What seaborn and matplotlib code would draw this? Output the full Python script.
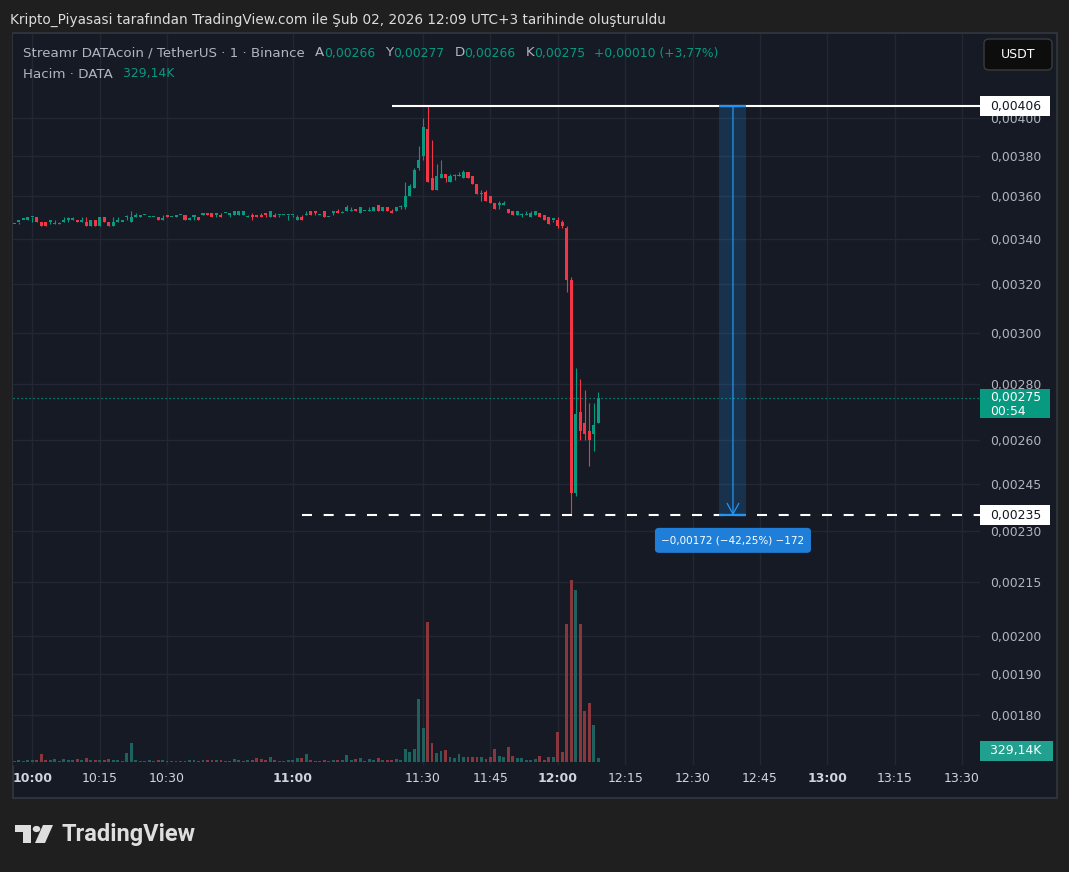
import numpy as np
import pandas as pd
import matplotlib
matplotlib.use("Agg")
import matplotlib.pyplot as plt
import seaborn as sns
from matplotlib.patches import Rectangle, FancyBboxPatch, Polygon, Circle
from matplotlib.ticker import NullLocator, NullFormatter

# ---------------- data (1-minute bars, DATA/USDT, Binance) ----------------
bar_index = list(range(131))          # bar 0 = 09:56 ... bar 130 = 12:09
opens = [0.00347, 0.00348, 0.00349, 0.00349, 0.00350, 0.00350, 0.00348, 0.00348, 0.00348, 0.00347,
         0.00347, 0.00348, 0.00349, 0.00349, 0.00349, 0.00348, 0.00348, 0.00346, 0.00349, 0.00346,
         0.00350, 0.00348, 0.00346, 0.00348, 0.00348, 0.00350, 0.00348, 0.00350, 0.00350, 0.00351,
         0.00350, 0.00350, 0.00350, 0.00349, 0.00351, 0.00350, 0.00350, 0.00351, 0.00351, 0.00349,
         0.00350, 0.00350, 0.00351, 0.00352, 0.00352, 0.00351, 0.00351, 0.00352, 0.00351, 0.00351,
         0.00351, 0.00351, 0.00350, 0.00351, 0.00351, 0.00351, 0.00352, 0.00350, 0.00351, 0.00351,
         0.00351, 0.00351, 0.00351, 0.00349, 0.00350, 0.00351, 0.00353, 0.00353, 0.00351, 0.00353,
         0.00350, 0.00352, 0.00353, 0.00352, 0.00353, 0.00353, 0.00354, 0.00352, 0.00353, 0.00353,
         0.00353, 0.00356, 0.00353, 0.00355, 0.00353, 0.00353, 0.00355, 0.00355, 0.00360, 0.00364,
         0.00374, 0.00380, 0.00394, 0.00369, 0.00363, 0.00369, 0.00371, 0.00367, 0.00370, 0.00370,
         0.00369, 0.00372, 0.00370, 0.00366, 0.00361, 0.00362, 0.00360, 0.00357, 0.00356, 0.00356,
         0.00354, 0.00353, 0.00351, 0.00351, 0.00351, 0.00350, 0.00351, 0.00352, 0.00351, 0.00350,
         0.00349, 0.00349, 0.00348, 0.00345, 0.00322, 0.00242, 0.00270, 0.00266, 0.00263, 0.00262,
         0.00266]
highs = [0.00347, 0.00348, 0.00349, 0.00350, 0.00350, 0.00350, 0.00348, 0.00348, 0.00349, 0.00349,
         0.00348, 0.00350, 0.00350, 0.00350, 0.00349, 0.00350, 0.00350, 0.00349, 0.00349, 0.00350,
         0.00350, 0.00348, 0.00350, 0.00350, 0.00348, 0.00351, 0.00353, 0.00352, 0.00351, 0.00351,
         0.00350, 0.00350, 0.00350, 0.00351, 0.00351, 0.00350, 0.00351, 0.00351, 0.00351, 0.00350,
         0.00351, 0.00350, 0.00352, 0.00352, 0.00352, 0.00352, 0.00352, 0.00352, 0.00352, 0.00353,
         0.00353, 0.00353, 0.00351, 0.00352, 0.00351, 0.00352, 0.00352, 0.00353, 0.00352, 0.00351,
         0.00351, 0.00351, 0.00351, 0.00351, 0.00351, 0.00353, 0.00353, 0.00353, 0.00351, 0.00353,
         0.00350, 0.00353, 0.00354, 0.00353, 0.00356, 0.00355, 0.00354, 0.00355, 0.00353, 0.00355,
         0.00355, 0.00356, 0.00355, 0.00355, 0.00354, 0.00355, 0.00356, 0.00367, 0.00366, 0.00374,
         0.00385, 0.00400, 0.00406, 0.00388, 0.00376, 0.00378, 0.00371, 0.00371, 0.00371, 0.00372,
         0.00373, 0.00372, 0.00370, 0.00366, 0.00363, 0.00363, 0.00360, 0.00357, 0.00358, 0.00358,
         0.00354, 0.00353, 0.00353, 0.00352, 0.00353, 0.00353, 0.00353, 0.00352, 0.00351, 0.00350,
         0.00349, 0.00350, 0.00349, 0.00346, 0.00323, 0.00286, 0.00282, 0.00278, 0.00273, 0.00273,
         0.00277]
lows = [0.00347, 0.00347, 0.00349, 0.00349, 0.00348, 0.00348, 0.00346, 0.00346, 0.00347, 0.00347,
        0.00347, 0.00348, 0.00348, 0.00349, 0.00348, 0.00348, 0.00346, 0.00346, 0.00346, 0.00346,
        0.00348, 0.00346, 0.00346, 0.00348, 0.00348, 0.00349, 0.00348, 0.00350, 0.00350, 0.00351,
        0.00350, 0.00350, 0.00349, 0.00349, 0.00350, 0.00350, 0.00350, 0.00351, 0.00349, 0.00349,
        0.00349, 0.00349, 0.00351, 0.00351, 0.00350, 0.00350, 0.00350, 0.00352, 0.00350, 0.00351,
        0.00351, 0.00351, 0.00350, 0.00349, 0.00350, 0.00350, 0.00350, 0.00350, 0.00350, 0.00350,
        0.00351, 0.00349, 0.00350, 0.00349, 0.00349, 0.00351, 0.00351, 0.00351, 0.00351, 0.00350,
        0.00350, 0.00351, 0.00352, 0.00352, 0.00353, 0.00353, 0.00353, 0.00352, 0.00353, 0.00353,
        0.00353, 0.00353, 0.00353, 0.00353, 0.00352, 0.00353, 0.00354, 0.00354, 0.00360, 0.00364,
        0.00373, 0.00378, 0.00367, 0.00363, 0.00363, 0.00369, 0.00367, 0.00367, 0.00368, 0.00370,
        0.00369, 0.00369, 0.00366, 0.00361, 0.00358, 0.00358, 0.00357, 0.00354, 0.00354, 0.00356,
        0.00352, 0.00351, 0.00351, 0.00350, 0.00351, 0.00350, 0.00351, 0.00350, 0.00349, 0.00347,
        0.00348, 0.00345, 0.00345, 0.00317, 0.00235, 0.00241, 0.00260, 0.00260, 0.00251, 0.00256,
        0.00266]
closes = [0.00347, 0.00348, 0.00349, 0.00350, 0.00350, 0.00348, 0.00346, 0.00346, 0.00349, 0.00347,
          0.00347, 0.00349, 0.00349, 0.00349, 0.00348, 0.00349, 0.00346, 0.00349, 0.00346, 0.00350,
          0.00348, 0.00346, 0.00348, 0.00349, 0.00348, 0.00350, 0.00350, 0.00351, 0.00351, 0.00351,
          0.00350, 0.00350, 0.00349, 0.00349, 0.00350, 0.00350, 0.00351, 0.00351, 0.00349, 0.00349,
          0.00351, 0.00349, 0.00352, 0.00351, 0.00350, 0.00352, 0.00350, 0.00352, 0.00352, 0.00353,
          0.00353, 0.00353, 0.00350, 0.00350, 0.00350, 0.00350, 0.00351, 0.00353, 0.00350, 0.00351,
          0.00351, 0.00351, 0.00351, 0.00350, 0.00349, 0.00351, 0.00351, 0.00352, 0.00351, 0.00350,
          0.00350, 0.00353, 0.00352, 0.00352, 0.00355, 0.00353, 0.00353, 0.00355, 0.00353, 0.00353,
          0.00355, 0.00353, 0.00355, 0.00353, 0.00352, 0.00355, 0.00355, 0.00360, 0.00365, 0.00373,
          0.00378, 0.00395, 0.00367, 0.00363, 0.00370, 0.00371, 0.00369, 0.00370, 0.00370, 0.00370,
          0.00372, 0.00369, 0.00366, 0.00361, 0.00361, 0.00358, 0.00357, 0.00354, 0.00356, 0.00356,
          0.00352, 0.00351, 0.00353, 0.00351, 0.00351, 0.00352, 0.00353, 0.00350, 0.00349, 0.00347,
          0.00349, 0.00346, 0.00346, 0.00322, 0.00242, 0.00269, 0.00263, 0.00262, 0.00260, 0.00265,
          0.00275]
volumes_k = [82, 165, 82, 165, 165, 165, 658, 165, 165, 247,
             82, 247, 165, 165, 247, 165, 329, 165, 165, 165,
             165, 247, 165, 165, 82, 740, 1563, 165, 82, 82,
             165, 82, 165, 165, 82, 82, 82, 82, 82, 165,
             165, 82, 165, 165, 165, 165, 165, 82, 82, 247,
             165, 82, 165, 165, 329, 247, 165, 411, 165, 82,
             82, 165, 165, 329, 329, 658, 165, 82, 82, 165,
             82, 165, 165, 165, 576, 165, 247, 329, 82, 247,
             165, 329, 165, 165, 165, 247, 165, 1070, 823, 1070,
             5185, 2798, 11522, 1563, 740, 905, 987, 411, 329, 658,
             411, 411, 411, 411, 411, 247, 411, 1070, 494, 411,
             1234, 494, 329, 329, 165, 165, 247, 494, 165, 411,
             411, 2469, 823, 11357, 14979, 14156, 11357, 4197, 4856, 3045,
             329.14]

time_tick_bars = [4, 19, 34, 62, 91, 106, 121, 136, 151, 166, 181, 196, 211]
time_tick_labels = ["10:00", "10:15", "10:30", "11:00", "11:30", "11:45", "12:00",
                    "12:15", "12:30", "12:45", "13:00", "13:15", "13:30"]
price_ticks = [0.00180, 0.00190, 0.00200, 0.00215, 0.00230, 0.00245, 0.00260,
               0.00280, 0.00300, 0.00320, 0.00340, 0.00360, 0.00380, 0.00400]

high_level = 0.00406
low_level = 0.00235
last_price = 0.00275
high_line_start_bar = 84
low_line_start_bar = 64
measure_bars = [157, 163]
measure_text = "\u22120,00172 (\u221242,25%) \u2212172"
countdown = "00:54"
last_volume_text = "329,14K"

# ---------------- styling ----------------
UP, DN = "#089981", "#f23645"
VOL_UP, VOL_DN = "#1d625e", "#8a363d"
PANEL = "#161a25"
OUTER = "#1f1f1f"
GRID = "#232733"
AXTXT = "#b2b5be"

sns.set_theme(style="dark")
plt.rcParams["font.family"] = ["DejaVu Sans"]

W, H = 1069, 872
fig = plt.figure(figsize=(W / 100, H / 100), dpi=100, facecolor=OUTER)


def fx(x):
    return x / W


def fy(y):
    return 1 - y / H


panel = Rectangle((fx(13), fy(798)), fx(1057) - fx(13), fy(33) - fy(798),
                  transform=fig.transFigure, facecolor=PANEL, edgecolor="#34373f",
                  lw=1.2, zorder=-1)
fig.patches.append(panel)

rect = [fx(13), fy(765), fx(980) - fx(13), fy(34) - fy(765)]
ax = fig.add_axes(rect)
ax.set_facecolor(PANEL)
ax_vol = fig.add_axes(rect, sharex=ax)
ax_vol.set_zorder(ax.get_zorder() + 1)

# ---------------- volume (seaborn) ----------------
o = np.array(opens)
c = np.array(closes)
hi = np.array(highs)
lo = np.array(lows)
xb = np.array(bar_index)
is_up = c >= o

df = pd.DataFrame({"bar": xb, "volume": volumes_k,
                   "dir": np.where(is_up, "up", "down")})
sns.barplot(data=df, x="bar", y="volume", hue="dir",
            palette={"up": VOL_UP, "down": VOL_DN}, native_scale=True,
            dodge=False, width=0.64, saturation=1, legend=False,
            errorbar=None, linewidth=0, ax=ax_vol)
vmax = max(volumes_k)
ax_vol.set_ylim(-vmax * 0.017, vmax * 4.0)
ax_vol.axis("off")

# ---------------- candles ----------------
colors = np.where(is_up, UP, DN)
ax.vlines(xb, lo, hi, colors=colors, lw=0.8, zorder=3)
body_low = np.minimum(o, c)
body_h = np.maximum(np.abs(c - o), body_low * 0.0017)
ax.bar(xb, body_h, bottom=body_low, width=0.68, color=colors, linewidth=0, zorder=4)

ax.set_yscale("log")
ax.set_ylim(0.001683, 0.004473)
ax.set_xlim(-0.3, 215)
ax.set_yticks(price_ticks, labels=[f"{v:.5f}".replace(".", ",") for v in price_ticks])
ax.yaxis.set_minor_locator(NullLocator())
ax.yaxis.set_minor_formatter(NullFormatter())
ax.yaxis.tick_right()
ax.tick_params(axis="y", length=0, pad=7.5, labelsize=8.9, labelcolor=AXTXT)
ax.set_xticks(time_tick_bars, labels=time_tick_labels)
ax.tick_params(axis="x", length=0, pad=5, labelsize=9, labelcolor="#d1d4dc")
for lbl in ax.get_xticklabels():
    if lbl.get_text().endswith(":00"):
        lbl.set_fontweight("bold")
ax.grid(True, color=GRID, lw=1)
for s in ax.spines.values():
    s.set_visible(False)
ax.set_xlabel("")
ax.set_ylabel("")

# horizontal levels
ax.hlines(high_level, high_line_start_bar, 215, color="white", lw=1.5, zorder=5)
ax.hlines(low_level, low_line_start_bar, 215, color="white", lw=1.5,
          linestyles=(0, (4.8, 5.6)), zorder=5)
ax.axhline(last_price, color=UP, lw=0.9, ls=(0, (1, 2.2)), zorder=2)

# measurement tool
m0, m1 = measure_bars
mc = (m0 + m1) / 2
ax.add_patch(Rectangle((m0, low_level), m1 - m0, high_level - low_level,
                       facecolor="#2196f3", alpha=0.2, edgecolor="none", zorder=5))
ax.hlines([high_level, low_level], m0, m1, color="#2196f3", lw=1.6, zorder=6)
ax.annotate("", xy=(mc, low_level), xytext=(mc, high_level),
            arrowprops=dict(arrowstyle="->,head_length=0.55,head_width=0.3",
                            color="#2196f3", lw=0.9, shrinkA=0, shrinkB=0,
                            mutation_scale=14), zorder=6)


def price_py(p):
    return H - ax.transData.transform((0, p))[1]


def bar_px(b):
    return ax.transData.transform((b, last_price))[0]


# measure label
ly = price_py(low_level) + 25
lx = bar_px(mc)
fig.patches.append(FancyBboxPatch((fx(lx - 78), fy(ly + 12.5)), fx(156), 25 / H,
                                  boxstyle="round,pad=0,rounding_size=0.004",
                                  transform=fig.transFigure, facecolor="#1f7fd8",
                                  edgecolor="none", zorder=6))
fig.text(fx(lx), fy(ly), measure_text, color="white", fontsize=7.5,
         ha="center", va="center", zorder=7)


# price scale labels
def right_box(top, bottom, face, right=1050):
    fig.patches.append(Rectangle((fx(980), fy(bottom)), fx(right) - fx(980), (bottom - top) / H,
                                 transform=fig.transFigure, facecolor=face,
                                 edgecolor="none", zorder=6))


yh = price_py(high_level)
right_box(yh - 10, yh + 10, "white")
fig.text(fx(990), fy(yh), f"{high_level:.5f}".replace(".", ","), color="#131722",
         fontsize=8.9, va="center", ha="left", zorder=7)
yl = price_py(low_level)
right_box(yl - 10, yl + 10, "white")
fig.text(fx(990), fy(yl), f"{low_level:.5f}".replace(".", ","), color="#131722",
         fontsize=8.9, va="center", ha="left", zorder=7)
yc = price_py(last_price)
right_box(yc - 9, yc + 20, UP)
fig.text(fx(990), fy(yc), f"{last_price:.5f}".replace(".", ","), color="white",
         fontsize=8.9, va="center", ha="left", zorder=7)
fig.text(fx(990), fy(yc + 13.5), countdown, color="white",
         fontsize=8.9, va="center", ha="left", zorder=7)
vbase = H - ax_vol.transData.transform((0, 0))[1]
right_box(vbase - 21, vbase - 1, "#22a08f", right=1053)
fig.text(fx(990), fy(vbase - 11), last_volume_text, color="white",
         fontsize=8.9, va="center", ha="left", zorder=7)

# currency button
fig.patches.append(FancyBboxPatch((fx(984), fy(70)), fx(68), 31 / H,
                                  boxstyle="round,pad=0,rounding_size=0.005",
                                  transform=fig.transFigure, facecolor="#0d0d0d",
                                  edgecolor="#3b3b3b", lw=1, zorder=6))
fig.text(fx(1018), fy(55), "USDT", color="white", fontsize=9, ha="center",
         va="center", zorder=7)

# ---------------- header texts ----------------
fig.text(fx(10), fy(20), "Kripto_Piyasasi tarafından TradingView.com ile Şub 02, 2026 "
         "12:09 UTC+3 tarihinde oluşturuldu", color="#dcdcdc", fontsize=9.8,
         ha="left", va="center")

renderer = fig.canvas.get_renderer()


def chain(x0, ypx, pieces):
    x = x0
    for text, color, size, gap in pieces:
        t = fig.text(fx(x), fy(ypx), text, color=color, fontsize=size,
                     ha="left", va="center", zorder=7)
        x += t.get_window_extent(renderer).width + gap


fmt = lambda v: f"{v:.5f}".replace(".", ",")
LBL, VAL = 9.6, 8.9
chain(23, 53, [("Streamr DATAcoin / TetherUS · 1 · Binance", AXTXT, LBL, 10),
               ("A", AXTXT, LBL, 0), (fmt(opens[-1]), UP, VAL, 10),
               ("Y", AXTXT, LBL, 0), (fmt(highs[-1]), UP, VAL, 10),
               ("D", AXTXT, LBL, 0), (fmt(lows[-1]), UP, VAL, 10),
               ("K", AXTXT, LBL, 0), (fmt(closes[-1]), UP, VAL, 9),
               ("+0,00010 (+3,77%)", UP, VAL, 0)])
chain(23, 74, [("Hacim · DATA", AXTXT, LBL, 10), (last_volume_text, UP, VAL, 0)])

# ---------------- TradingView logo ----------------
logo_c = "#dedede"
fig.patches.append(Polygon([(fx(15), fy(825)), (fx(31), fy(825)), (fx(31), fy(843)),
                            (fx(23), fy(843)), (fx(23), fy(832)), (fx(15), fy(832))],
                           closed=True, transform=fig.transFigure, facecolor=logo_c,
                           edgecolor="none"))
fig.patches.append(Circle((fx(36.5), fy(829)), 3.8 / W, transform=fig.transFigure,
                          facecolor=logo_c, edgecolor="none"))
fig.patches.append(Polygon([(fx(43), fy(825)), (fx(53), fy(825)), (fx(45), fy(843)),
                            (fx(35), fy(843))], closed=True, transform=fig.transFigure,
                           facecolor=logo_c, edgecolor="none"))
fig.text(fx(62), fy(834), "TradingView", color=logo_c, fontsize=17,
         fontweight="bold", family=["Roboto", "DejaVu Sans"], ha="left", va="center")

fig.savefig("out.png", dpi=100, facecolor=OUTER)
